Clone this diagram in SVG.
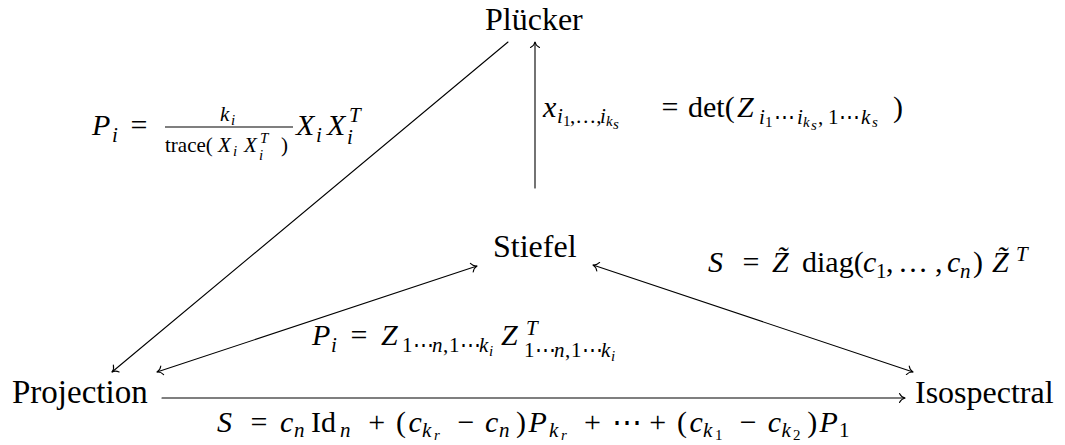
<svg xmlns="http://www.w3.org/2000/svg" width="1065" height="445" viewBox="0 0 1065 445">
<rect width="1065" height="445" fill="#fff"/>
<g id="plucker"><text font-family="Liberation Serif" font-size="32" x="485" y="30">Plücker</text></g>
<g id="stiefel"><text font-family="Liberation Serif" font-size="32" x="493" y="257">Stiefel</text></g>
<g id="projection"><text font-family="Liberation Serif" font-size="33" x="12" y="403">Projection</text></g>
<g id="isospectral"><text font-family="Liberation Serif" font-size="32" x="915" y="403">Isospectral</text></g>

<g id="connectors" stroke="#000" stroke-width="1.1" fill="none" stroke-linecap="round">
<path d="M535,188 L535,42"/>
<path d="M508,42 L112,372"/>
<path d="M157,372 L477,266"/>
<path d="M593,265 L913,372"/>
<path d="M162,398 L905,398"/>
<path transform="translate(535,42) rotate(-90)" d="M-5.5,-4.5 C-4.2,-1.8 -1.8,-0.4 0,0 C-1.8,0.4 -4.2,1.8 -5.5,4.5"/>
<path transform="translate(112,372) rotate(140.2)" d="M-5.5,-4.5 C-4.2,-1.8 -1.8,-0.4 0,0 C-1.8,0.4 -4.2,1.8 -5.5,4.5"/>
<path transform="translate(477,266) rotate(-18.3)" d="M-5.5,-4.5 C-4.2,-1.8 -1.8,-0.4 0,0 C-1.8,0.4 -4.2,1.8 -5.5,4.5"/>
<path transform="translate(157,372) rotate(161.7)" d="M-5.5,-4.5 C-4.2,-1.8 -1.8,-0.4 0,0 C-1.8,0.4 -4.2,1.8 -5.5,4.5"/>
<path transform="translate(913,372) rotate(18.5)" d="M-5.5,-4.5 C-4.2,-1.8 -1.8,-0.4 0,0 C-1.8,0.4 -4.2,1.8 -5.5,4.5"/>
<path transform="translate(593,265) rotate(198.5)" d="M-5.5,-4.5 C-4.2,-1.8 -1.8,-0.4 0,0 C-1.8,0.4 -4.2,1.8 -5.5,4.5"/>
<path transform="translate(905,398)" d="M-5.5,-4.5 C-4.2,-1.8 -1.8,-0.4 0,0 C-1.8,0.4 -4.2,1.8 -5.5,4.5"/>
</g>

<g id="label-plucker-projection">
<line x1="165" y1="127" x2="293" y2="127" stroke="#000" stroke-width="1.2"/>
<text font-family="Liberation Serif" font-size="30" font-style="italic" x="92" y="135">P</text>
<text font-family="Liberation Serif" font-size="21" font-style="italic" x="112" y="142">i</text>
<text font-family="Liberation Serif" font-size="30" x="130.5" y="135">=</text>
<text font-family="Liberation Serif" font-size="21" font-style="italic" x="220" y="121">k</text>
<text font-family="Liberation Serif" font-size="15" font-style="italic" x="231" y="125">i</text>
<text font-family="Liberation Serif" font-size="21" x="165" y="152">trace(</text>
<text font-family="Liberation Serif" font-size="21" font-style="italic" x="218" y="152">X</text>
<text font-family="Liberation Serif" font-size="15" font-style="italic" x="233" y="156">i</text>
<text font-family="Liberation Serif" font-size="21" font-style="italic" x="244" y="152">X</text>
<text font-family="Liberation Serif" font-size="15" font-style="italic" x="260" y="143">T</text>
<text font-family="Liberation Serif" font-size="15" font-style="italic" x="259" y="160">i</text>
<text font-family="Liberation Serif" font-size="21" x="281" y="152">)</text>
<text font-family="Liberation Serif" font-size="30" font-style="italic" x="296" y="135">X</text>
<text font-family="Liberation Serif" font-size="21" font-style="italic" x="316" y="142">i</text>
<text font-family="Liberation Serif" font-size="30" font-style="italic" x="327" y="135">X</text>
<text font-family="Liberation Serif" font-size="21" font-style="italic" x="349" y="122">T</text>
<text font-family="Liberation Serif" font-size="21" font-style="italic" x="347" y="144">i</text>
</g>

<g id="label-stiefel-plucker">
<text font-family="Liberation Serif" font-size="30" font-style="italic" x="543" y="117">x</text>
<text font-family="Liberation Serif" font-size="21" font-style="italic" x="557" y="123">i</text>
<text font-family="Liberation Serif" font-size="15" x="563" y="126">1</text>
<text font-family="Liberation Serif" font-size="21" x="570" y="123">,…,</text>
<text font-family="Liberation Serif" font-size="21" font-style="italic" x="600" y="123">i</text>
<text font-family="Liberation Serif" font-size="15" font-style="italic" x="606" y="126">k</text>
<text font-family="Liberation Serif" font-size="15" font-style="italic" x="613" y="129">s</text>
<text font-family="Liberation Serif" font-size="30" x="661.5" y="117">=</text>
<text font-family="Liberation Serif" font-size="30" x="688" y="117">det(</text>
<text font-family="Liberation Serif" font-size="30" font-style="italic" x="737" y="117">Z</text>
<text font-family="Liberation Serif" font-size="21" font-style="italic" x="759" y="124">i</text>
<text font-family="Liberation Serif" font-size="15" x="765" y="127">1</text>
<text font-family="Liberation Serif" font-size="21" x="774" y="124">⋯</text>
<text font-family="Liberation Serif" font-size="21" font-style="italic" x="797" y="124">i</text>
<text font-family="Liberation Serif" font-size="15" font-style="italic" x="803" y="127">k</text>
<text font-family="Liberation Serif" font-size="15" font-style="italic" x="811" y="130">s</text>
<text font-family="Liberation Serif" font-size="21" x="818" y="124">,</text>
<text font-family="Liberation Serif" font-size="21" x="828" y="124">1</text>
<text font-family="Liberation Serif" font-size="21" x="839" y="124">⋯</text>
<text font-family="Liberation Serif" font-size="21" font-style="italic" x="861" y="124">k</text>
<text font-family="Liberation Serif" font-size="15" font-style="italic" x="872" y="127">s</text>
<text font-family="Liberation Serif" font-size="30" x="893" y="117">)</text>
</g>

<g id="label-projection-stiefel">
<text font-family="Liberation Serif" font-size="30" font-style="italic" x="312" y="345">P</text>
<text font-family="Liberation Serif" font-size="21" font-style="italic" x="331" y="352">i</text>
<text font-family="Liberation Serif" font-size="30" x="350.5" y="345">=</text>
<text font-family="Liberation Serif" font-size="30" font-style="italic" x="381" y="345">Z</text>
<text font-family="Liberation Serif" font-size="21" x="402" y="352">1⋯</text>
<text font-family="Liberation Serif" font-size="21" font-style="italic" x="432" y="352">n</text>
<text font-family="Liberation Serif" font-size="21" x="443" y="352">,</text>
<text font-family="Liberation Serif" font-size="21" x="449" y="352">1⋯</text>
<text font-family="Liberation Serif" font-size="21" font-style="italic" x="479" y="352">k</text>
<text font-family="Liberation Serif" font-size="15" font-style="italic" x="489" y="356">i</text>
<text font-family="Liberation Serif" font-size="30" font-style="italic" x="501" y="345">Z</text>
<text font-family="Liberation Serif" font-size="21" font-style="italic" x="526" y="335">T</text>
<text font-family="Liberation Serif" font-size="21" x="524" y="357">1⋯</text>
<text font-family="Liberation Serif" font-size="21" font-style="italic" x="554" y="357">n</text>
<text font-family="Liberation Serif" font-size="21" x="565" y="357">,</text>
<text font-family="Liberation Serif" font-size="21" x="571" y="357">1⋯</text>
<text font-family="Liberation Serif" font-size="21" font-style="italic" x="601" y="357">k</text>
<text font-family="Liberation Serif" font-size="15" font-style="italic" x="611" y="361">i</text>
</g>

<g id="label-stiefel-isospectral">
<text font-family="Liberation Serif" font-size="30" font-style="italic" x="708" y="272">S</text>
<text font-family="Liberation Serif" font-size="30" x="742.5" y="272">=</text>
<text font-family="Liberation Serif" font-size="30" font-style="italic" x="772" y="272">Z̃</text>
<text font-family="Liberation Serif" font-size="30" x="802" y="272">diag(</text>
<text font-family="Liberation Serif" font-size="30" font-style="italic" x="863" y="272">c</text>
<text font-family="Liberation Serif" font-size="21" x="876" y="278">1</text>
<text font-family="Liberation Serif" font-size="30" x="886" y="272">,</text>
<text font-family="Liberation Serif" font-size="30" x="898" y="272">…</text>
<text font-family="Liberation Serif" font-size="30" x="935" y="272">,</text>
<text font-family="Liberation Serif" font-size="30" font-style="italic" x="947" y="272">c</text>
<text font-family="Liberation Serif" font-size="21" font-style="italic" x="960" y="278">n</text>
<text font-family="Liberation Serif" font-size="30" x="973" y="272">)</text>
<text font-family="Liberation Serif" font-size="30" font-style="italic" x="992" y="272">Z̃</text>
<text font-family="Liberation Serif" font-size="21" font-style="italic" x="1016" y="261">T</text>
</g>

<g id="label-projection-isospectral">
<text font-family="Liberation Serif" font-size="30" font-style="italic" x="217" y="432">S</text>
<text font-family="Liberation Serif" font-size="30" x="250.5" y="432">=</text>
<text font-family="Liberation Serif" font-size="30" font-style="italic" x="280" y="432">c</text>
<text font-family="Liberation Serif" font-size="21" font-style="italic" x="294" y="437">n</text>
<text font-family="Liberation Serif" font-size="30" x="311" y="432">Id</text>
<text font-family="Liberation Serif" font-size="21" font-style="italic" x="340" y="437">n</text>
<text font-family="Liberation Serif" font-size="30" x="368.3" y="432">+</text>
<text font-family="Liberation Serif" font-size="30" x="396" y="432">(</text>
<text font-family="Liberation Serif" font-size="30" font-style="italic" x="408.5" y="432">c</text>
<text font-family="Liberation Serif" font-size="21" font-style="italic" x="422" y="437">k</text>
<text font-family="Liberation Serif" font-size="15" font-style="italic" x="434" y="440">r</text>
<text font-family="Liberation Serif" font-size="30" x="457.4" y="432">−</text>
<text font-family="Liberation Serif" font-size="30" font-style="italic" x="485" y="432">c</text>
<text font-family="Liberation Serif" font-size="21" font-style="italic" x="499" y="437">n</text>
<text font-family="Liberation Serif" font-size="30" x="516" y="432">)</text>
<text font-family="Liberation Serif" font-size="30" font-style="italic" x="528.5" y="432">P</text>
<text font-family="Liberation Serif" font-size="21" font-style="italic" x="549" y="437">k</text>
<text font-family="Liberation Serif" font-size="15" font-style="italic" x="561" y="440">r</text>
<text font-family="Liberation Serif" font-size="30" x="584.1" y="432">+</text>
<text font-family="Liberation Serif" font-size="30" x="612" y="432">⋯</text>
<text font-family="Liberation Serif" font-size="30" x="649.2" y="432">+</text>
<text font-family="Liberation Serif" font-size="30" x="677" y="432">(</text>
<text font-family="Liberation Serif" font-size="30" font-style="italic" x="689.4" y="432">c</text>
<text font-family="Liberation Serif" font-size="21" font-style="italic" x="703" y="437">k</text>
<text font-family="Liberation Serif" font-size="15" x="715" y="440">1</text>
<text font-family="Liberation Serif" font-size="30" x="739.8" y="432">−</text>
<text font-family="Liberation Serif" font-size="30" font-style="italic" x="767.7" y="432">c</text>
<text font-family="Liberation Serif" font-size="21" font-style="italic" x="781.4" y="437">k</text>
<text font-family="Liberation Serif" font-size="15" x="793" y="440">2</text>
<text font-family="Liberation Serif" font-size="30" x="807.3" y="432">)</text>
<text font-family="Liberation Serif" font-size="30" font-style="italic" x="819.6" y="432">P</text>
<text font-family="Liberation Serif" font-size="21" x="839" y="437">1</text>
</g>
</svg>
